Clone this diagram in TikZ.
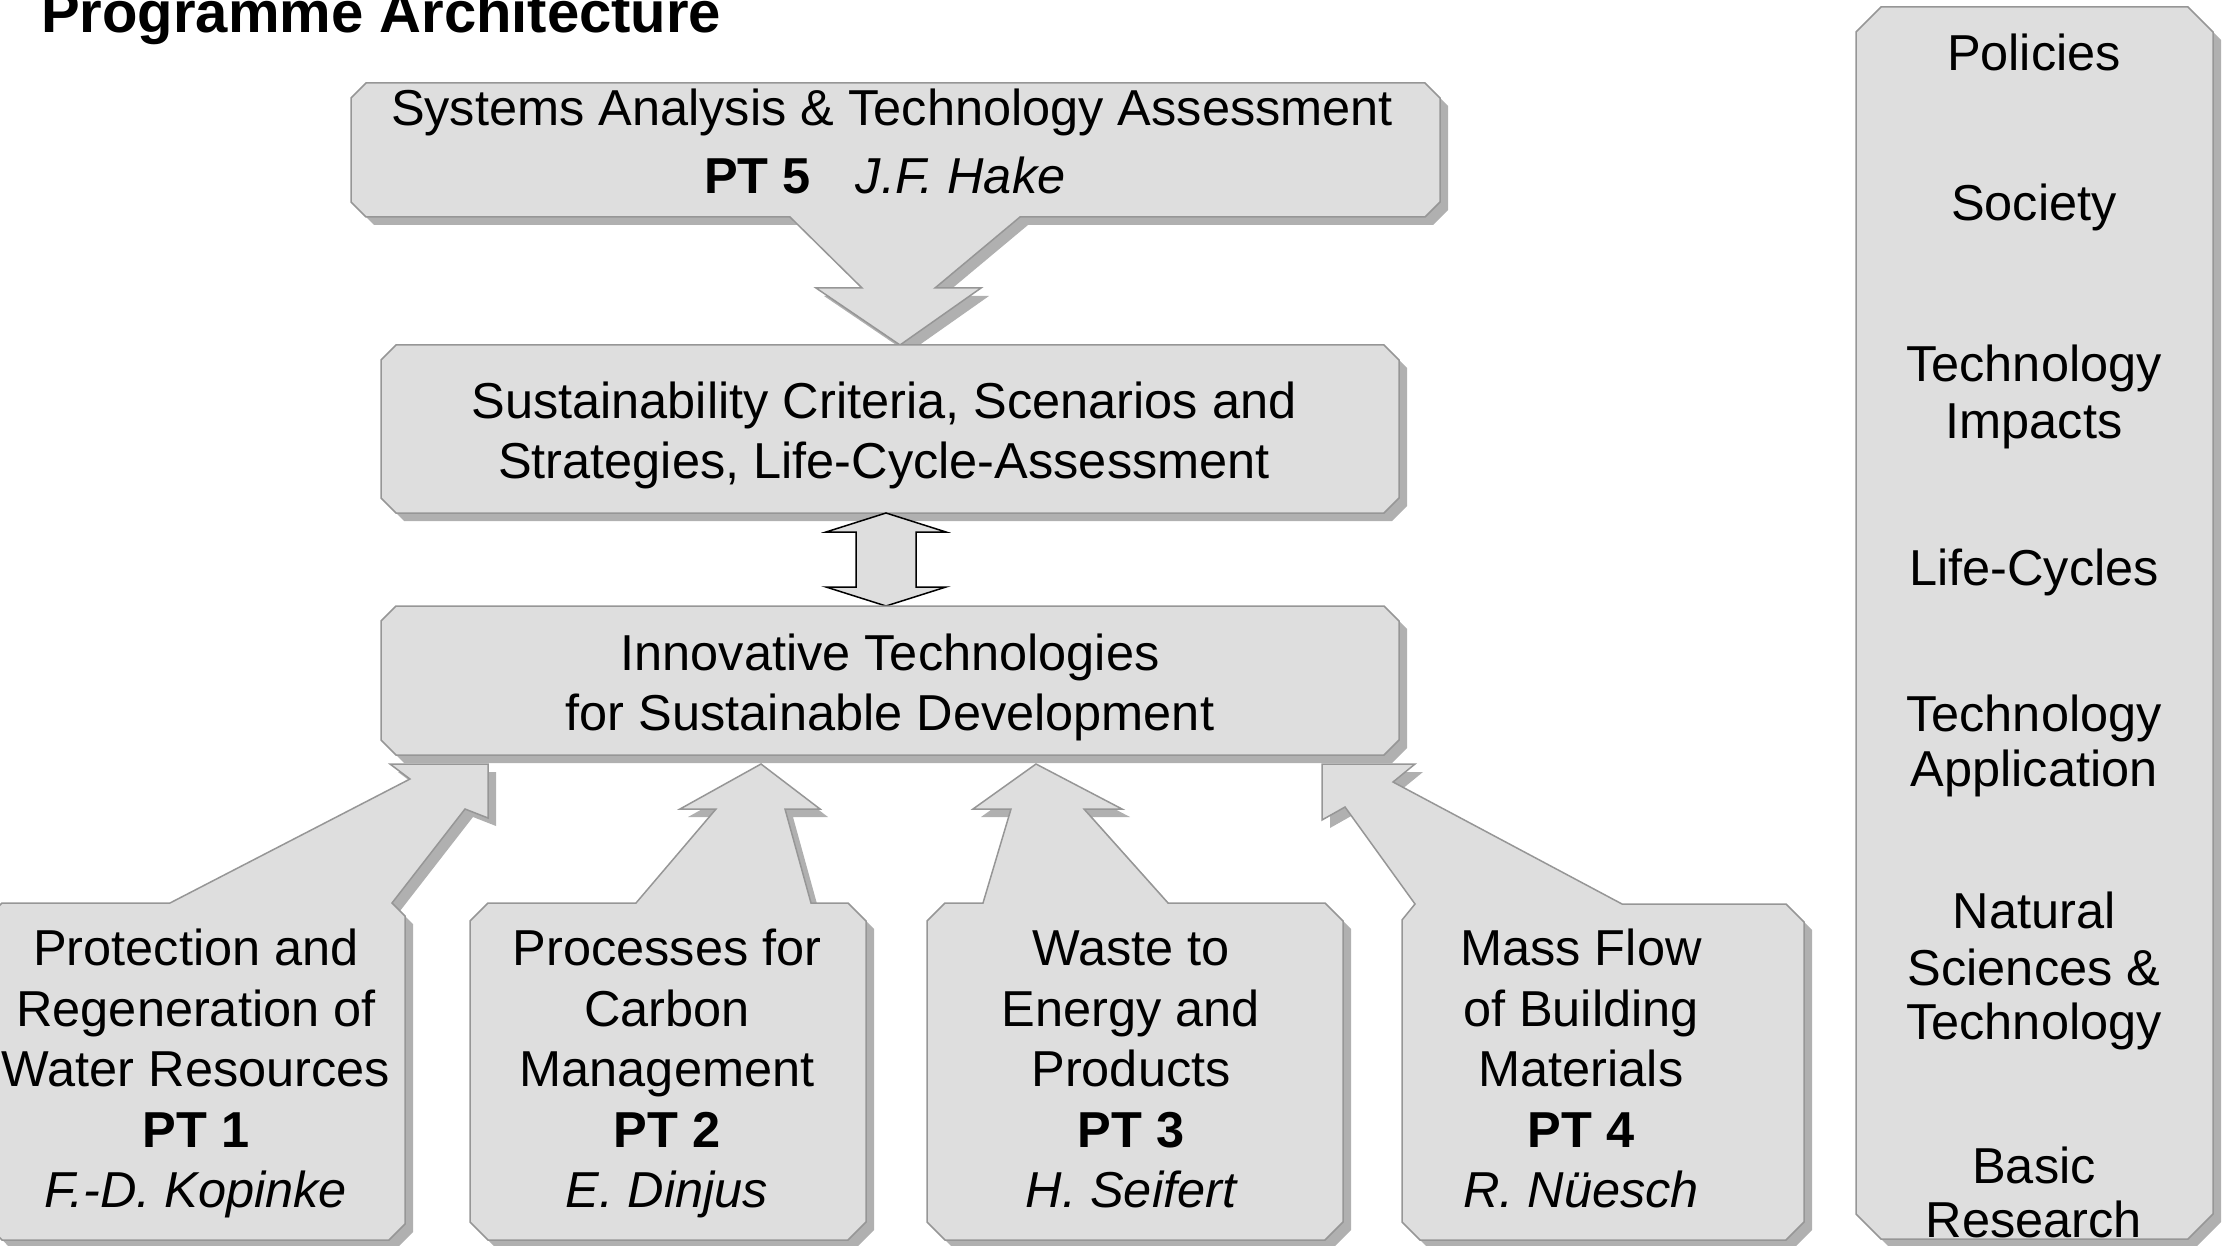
\documentclass[tikz,border=0pt]{standalone}
\usepackage{fontspec}
\setmainfont{Liberation Sans}
\definecolor{boxgray}{HTML}{DEDEDE}
\definecolor{shadowgray}{HTML}{B0B0B0}
\definecolor{edgegray}{HTML}{969696}
\begin{document}
\begin{tikzpicture}[x=1pt,y=-1pt,
  callout/.style={fill=boxgray, draw=edgegray, line width=1.5pt, line join=miter,
     preaction={fill=shadowgray, draw=none, transform canvas={shift={(8pt,-8pt)}}}},
  dblarrow/.style={fill=boxgray, draw=black, line width=1.5pt, line join=miter},
  txt/.style={font=\fontsize{50.5}{60.5}\selectfont, inner sep=0pt, anchor=base},
  ttl/.style={font=\fontsize{58}{70}\selectfont\bfseries, inner sep=0pt, anchor=base west}]
\useasboundingbox (0,0) rectangle (2230,1246);

% title
\node[ttl] (title) at (41,33) {Programme Architecture};

% PT5 callout
\path[callout] (366,83) -- (1425,83) -- (1440,98) -- (1440,202) -- (1425,217)
  -- (1020,217) -- (935,288) -- (981,288) -- (900,345) -- (816,288) -- (862,288)
  -- (790,217) -- (366,217) -- (351,202) -- (351,98) -- cycle;
\node[txt] (t5a) at (892,126) {Systems Analysis \& Technology Assessment};
\node[txt, anchor=base west] (t5b) at (704,194) {{\bfseries PT 5}\hspace{45pt}{\itshape J.F. Hake}};

% Sustainability box
\path[callout] (396,345) -- (1384,345) -- (1399,360) -- (1399,498) -- (1384,513)
  -- (396,513) -- (381,498) -- (381,360) -- cycle;
\node[txt] (s1) at (884,418) {Sustainability Criteria, Scenarios and};
\node[txt] (s2) at (884,478) {Strategies, Life-Cycle-Assessment};

% double arrow
\path[dblarrow] (886,513) -- (946,532) -- (916,532) -- (916,587) -- (946,587)
  -- (886,606) -- (826,587) -- (856,587) -- (856,532) -- (826,532) -- cycle;

% Innovative box
\path[callout] (396,606) -- (1384,606) -- (1399,621) -- (1399,740) -- (1384,755)
  -- (396,755) -- (381,740) -- (381,621) -- cycle;
\node[txt] (i1) at (890,670) {Innovative Technologies};
\node[txt] (i2) at (890,730) {for Sustainable Development};

% PT1 callout
\path[callout] (-13,918) -- (2,903) -- (170,903) -- (410,779) -- (390,764) -- (488,764)
  -- (488,818) -- (465,809) -- (392,903) -- (405,916) -- (405,1224) -- (389,1240)
  -- (2,1240) -- (-13,1224) -- cycle;
\node[txt] (p1a) at (196,965) {Protection and};
\node[txt] (p1b) at (196,1026) {Regeneration of};
\node[txt] (p1c) at (196,1086) {Water Resources};
\node[txt] (p1d) at (196,1147) {\bfseries PT 1};
\node[txt] (p1e) at (196,1207) {\itshape F.-D. Kopinke};

% PT2 callout
\path[callout] (470,921) -- (488,903) -- (636,903) -- (716,809) -- (680,809) -- (761,764)
  -- (820,809) -- (785,809) -- (811,903) -- (848,903) -- (866,921) -- (866,1222)
  -- (848,1240) -- (488,1240) -- (470,1222) -- cycle;
\node[txt] (p2a) at (667,965) {Processes for};
\node[txt] (p2b) at (667,1026) {Carbon};
\node[txt] (p2c) at (667,1086) {Management};
\node[txt] (p2d) at (667,1147) {\bfseries PT 2};
\node[txt] (p2e) at (667,1207) {\itshape E. Dinjus};

% PT3 callout
\path[callout] (927,921) -- (945,903) -- (983,903) -- (1011,809) -- (973,809) -- (1036,764)
  -- (1122,809) -- (1084,809) -- (1168,903) -- (1325,903) -- (1343,921) -- (1343,1222)
  -- (1325,1240) -- (945,1240) -- (927,1222) -- cycle;
\node[txt] (p3a) at (1131,965) {Waste to};
\node[txt] (p3b) at (1131,1026) {Energy and};
\node[txt] (p3c) at (1131,1086) {Products};
\node[txt] (p3d) at (1131,1147) {\bfseries PT 3};
\node[txt] (p3e) at (1131,1207) {\itshape H. Seifert};

% PT4 callout
\path[callout] (1402,920) -- (1415,904) -- (1345,807) -- (1322,820) -- (1322,764)
  -- (1415,764) -- (1393,782) -- (1622,904) -- (1786,904) -- (1804,922) -- (1804,1222)
  -- (1786,1240) -- (1420,1240) -- (1402,1222) -- cycle;
\node[txt] (p4a) at (1581,965) {Mass Flow};
\node[txt] (p4b) at (1581,1026) {of Building};
\node[txt] (p4c) at (1581,1086) {Materials};
\node[txt] (p4d) at (1581,1147) {\bfseries PT 4};
\node[txt] (p4e) at (1581,1207) {\itshape R. Nüesch};

% right column
\path[callout] (1881,7) -- (2188,7) -- (2213,32) -- (2213,1214) -- (2188,1239)
  -- (1881,1239) -- (1856,1214) -- (1856,32) -- cycle;
\node[txt] (r1) at (2034,71) {Policies};
\node[txt] (r2) at (2034,221) {Society};
\node[txt] (r3) at (2034,382) {Technology};
\node[txt] (r4) at (2034,438) {Impacts};
\node[txt] (r5) at (2034,585) {Life-Cycles};
\node[txt] (r6) at (2034,731) {Technology};
\node[txt] (r7) at (2034,786) {Application};
\node[txt] (r8) at (2034,928) {Natural};
\node[txt] (r9) at (2034,985) {Sciences \&};
\node[txt] (r10) at (2034,1039) {Technology};
\node[txt] (r11) at (2034,1183) {Basic};
\node[txt] (r12) at (2034,1237) {Research};
\end{tikzpicture}
\end{document}
